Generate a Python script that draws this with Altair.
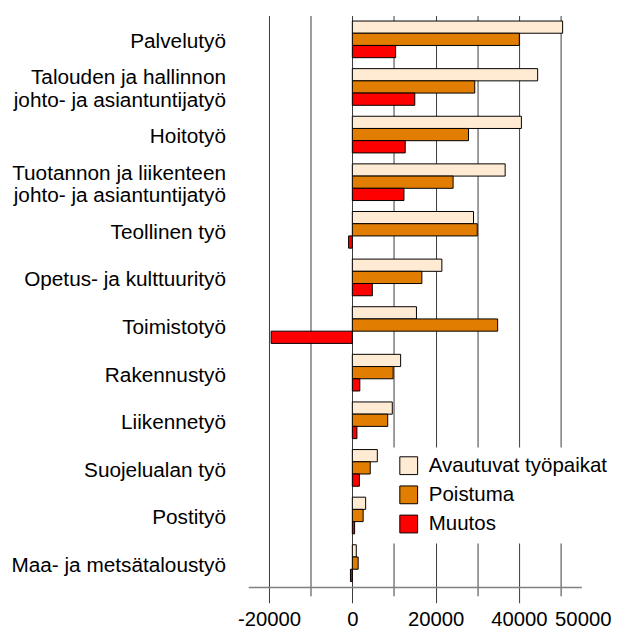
import altair as alt
import pandas as pd

categories = [
    "Palvelutyö",
    "Talouden ja hallinnon|johto- ja asiantuntijatyö",
    "Hoitotyö",
    "Tuotannon ja liikenteen|johto- ja asiantuntijatyö",
    "Teollinen työ",
    "Opetus- ja kulttuurityö",
    "Toimistotyö",
    "Rakennustyö",
    "Liikennetyö",
    "Suojelualan työ",
    "Postityö",
    "Maa- ja metsätaloustyö",
]
series = ["Avautuvat työpaikat", "Poistuma", "Muutos"]
avautuvat = [50500, 44500, 40600, 36700, 29100, 21500, 15400, 11600, 9600, 6000, 3200, 950]
poistuma = [40100, 29400, 27900, 24200, 30000, 16700, 34900, 9800, 8500, 4300, 2600, 1400]
muutos = [10400, 15000, 12700, 12400, -900, 4800, -19500, 1800, 1100, 1700, 550, -450]
colors = ["#FFEBD3", "#E17D00", "#FF0000"]
x_ticks = [-20000, -10000, 0, 10000, 20000, 30000, 40000, 50000]

rows = []
for i, c in enumerate(categories):
    for s, vals in zip(series, [avautuvat, poistuma, muutos]):
        rows.append({"category": c, "series": s, "value": vals[i]})
df = pd.DataFrame(rows)

FONT = "Liberation Sans"
MINOR = "datum.value == -10000 || datum.value == 10000 || datum.value == 30000 || datum.value == 50000"

chart = alt.Chart(df).mark_bar(stroke="black", strokeWidth=1).encode(
    x=alt.X(
        "value:Q",
        scale=alt.Scale(domain=[-25000, 55000], nice=False, zero=False),
        axis=alt.Axis(
            title=None,
            values=x_ticks,
            grid=True,
            gridColor="#3a3a3a",
            gridWidth=1,
            domainColor="#808080",
            domainWidth=1.5,
            tickColor="#3a3a3a",
            tickSize=alt.ConditionalAxisNumber(condition={"test": MINOR, "value": 9}, value=16),
            labelPadding=alt.ConditionalAxisNumber(condition={"test": MINOR, "value": 14}, value=7),
            labelExpr="(datum.value == -10000 || datum.value == 10000 || datum.value == 30000) ? '' : '' + datum.value",
            labelFont=FONT,
            labelFontSize=20.5,
            labelColor="black",
            labelAlign=alt.ConditionalAxisLabelAlign(
                condition={"test": "datum.value == 50000", "value": "left"},
                value="center",
            ),
            labelOffset=alt.ConditionalAxisNumber(
                condition={"test": "datum.value == 50000", "value": -6},
                value=0,
            ),
            labelOverlap=False,
            labelBound=False,
            labelFlush=False,
        ),
    ),
    y=alt.Y(
        "category:N",
        sort=categories,
        scale=alt.Scale(paddingInner=0.23, paddingOuter=0.115),
        axis=alt.Axis(
            title=None,
            domain=False,
            ticks=False,
            grid=False,
            labelExpr="split(datum.label, '|')",
            labelFont=FONT,
            labelFontSize=21,
            labelColor="black",
            labelPadding=23,
            labelLineHeight=23,
            labelOffset=alt.ConditionalAxisNumber(
                condition={"test": "indexof(datum.label, '|') >= 0", "value": -8.5},
                value=3,
            ),
            labelLimit=300,
        ),
    ),
    yOffset=alt.YOffset("series:N", sort=series, scale=alt.Scale(paddingInner=0, paddingOuter=0)),
    color=alt.Color(
        "series:N",
        sort=series,
        scale=alt.Scale(domain=series, range=colors),
        legend=alt.Legend(
            title=None,
            orient="none",
            legendX=144,
            legendY=437,
            fillColor="white",
            padding=8,
            symbolType="square",
            symbolSize=324,
            symbolStrokeColor="black",
            symbolStrokeWidth=1,
            symbolOpacity=1,
            labelFont=FONT,
            labelFontSize=20.7,
            labelColor="black",
            labelOffset=10,
            rowPadding=6.5,
            labelLimit=300,
        ),
    ),
).properties(
    width=337,
    height=578,
    background="white",
    autosize=alt.AutoSizeParams(type="none"),
    padding={"left": 243, "top": 4, "right": 32, "bottom": 46},
).configure_view(stroke=None)

chart.save("out.html", embed_options={"renderer": "svg", "actions": False})
